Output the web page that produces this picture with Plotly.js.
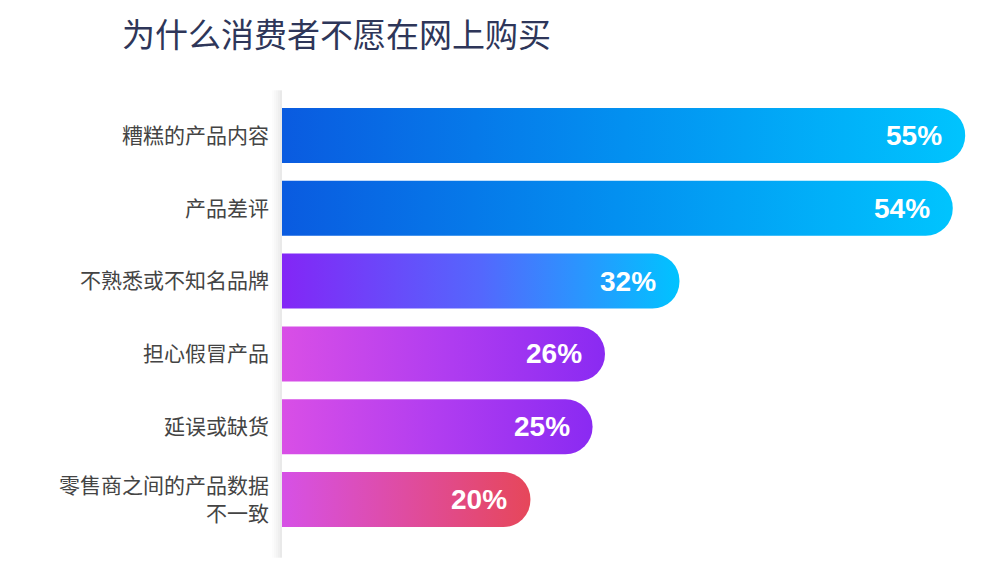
<!DOCTYPE html>
<html>
<head>
<meta charset="utf-8">
<script src="https://cdn.plot.ly/plotly-3.0.1.min.js"></script>
<style>html,body{margin:0;padding:0;background:#fff;}#chart{width:1000px;height:570px;}</style>
</head>
<body>
<div id="chart"></div>
<script>
const categories = ["糟糕的产品内容", "产品差评", "不熟悉或不知名品牌", "担心假冒产品", "延误或缺货", "零售商之间的产品数据<br>不一致"];
const values = [55, 54, 32, 26, 25, 20];
const valueLabels = ["55%", "54%", "32%", "26%", "25%", "20%"];
const gradStart = ["#0a5be0", "#0a5be0", "#8326f6", "#d94fe6", "#d94fe6", "#d651e6"];
const gradMid   = ["#0390f0", "#0390f0", "#5467fd", "#b13df0", "#b13df0", "#df4ca0"];
const gradEnd   = ["#00c4fe", "#00c4fe", "#00c3ff", "#8a2af2", "#8a2af2", "#e6475a"];

const trace = {
  type: "bar",
  orientation: "h",
  y: categories,
  x: values,
  marker: { color: gradMid, cornerradius: "50%", line: { width: 0 } },
  hoverinfo: "skip",
  textposition: "none"
};

const annotations = values.map((v, i) => ({
  x: v, y: categories[i], xref: "x", yref: "y",
  text: valueLabels[i], showarrow: false,
  xanchor: "right", xshift: -21,
  font: { family: "Liberation Sans, Arial, sans-serif", size: 28, color: "#ffffff", weight: "bold" }
}));

const shapes = [];
[[10, 0.012], [8, 0.014], [6, 0.016], [4, 0.02], [2, 0.024]].forEach(([w, o]) => {
  shapes.push({ type: "rect", xref: "paper", yref: "paper", xsizemode: "pixel", xanchor: 0,
    x0: -w, x1: 0, y0: -0.05, y1: 1.02, fillcolor: "#000", opacity: o, line: { width: 0 }, layer: "below" });
});

const layout = {
  width: 1000, height: 570,
  margin: { l: 282, r: 10, t: 99, b: 34 },
  paper_bgcolor: "#ffffff", plot_bgcolor: "rgba(0,0,0,0)",
  title: { text: "为什么消费者不愿在网上购买", xref: "container", yref: "container", x: 0.122, y: 0.938,
    xanchor: "left", yanchor: "middle",
    font: { family: "Noto Sans CJK SC, sans-serif", size: 33, color: "#2e3659" } },
  bargap: 0.245,
  xaxis: { range: [0, 57], visible: false, fixedrange: true },
  yaxis: { autorange: "reversed", showgrid: false, zeroline: false, showline: false, ticks: "",
    ticklabelstandoff: 12,
    tickfont: { family: "Noto Sans CJK SC, sans-serif", size: 21, color: "#444444" } },
  showlegend: false,
  annotations: annotations,
  shapes: shapes
};

Plotly.newPlot("chart", [trace], layout, { displayModeBar: false, staticPlot: true }).then(gd => {
  const svg = gd.querySelector("svg.main-svg");
  const NS = "http://www.w3.org/2000/svg";
  let defs = svg.querySelector("defs");
  if (!defs) { defs = document.createElementNS(NS, "defs"); svg.insertBefore(defs, svg.firstChild); }
  values.forEach((v, i) => {
    const lg = document.createElementNS(NS, "linearGradient");
    lg.setAttribute("id", "bargrad" + i);
    lg.setAttribute("x1", "0"); lg.setAttribute("y1", "0");
    lg.setAttribute("x2", "1"); lg.setAttribute("y2", "0");
    [[0, gradStart[i]], [0.5, gradMid[i]], [1, gradEnd[i]]].forEach(([o, c]) => {
      const st = document.createElementNS(NS, "stop");
      st.setAttribute("offset", o);
      st.setAttribute("stop-color", c);
      lg.appendChild(st);
    });
    defs.appendChild(lg);
  });
  const paths = gd.querySelectorAll(".trace.bars .point path");
  paths.forEach((p, i) => { p.style.fill = "url(#bargrad" + i + ")"; });
});
</script>
</body>
</html>
